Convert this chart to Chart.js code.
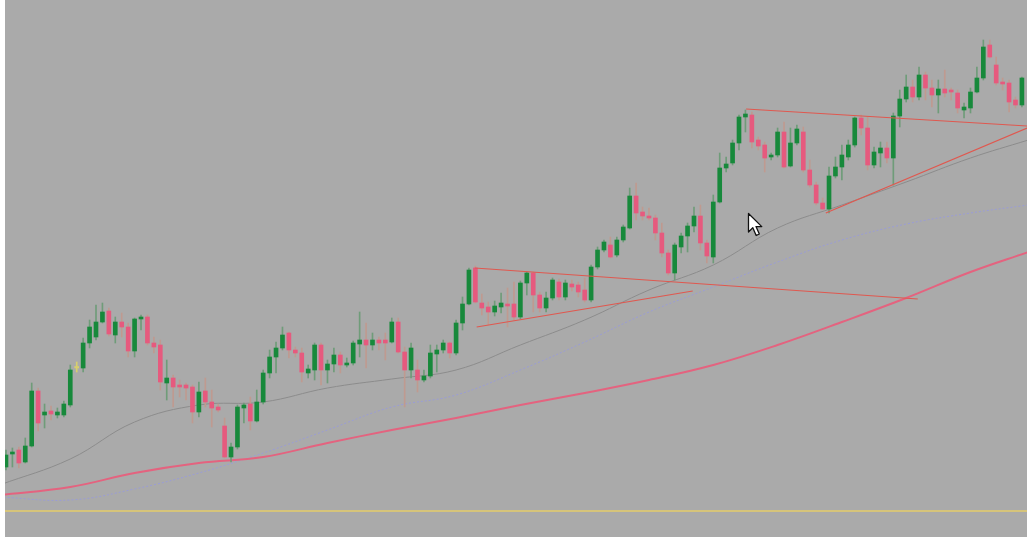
<!DOCTYPE html>
<html>
<head>
<meta charset="utf-8">
<script src="https://cdn.jsdelivr.net/npm/chart.js@4.4.0/dist/chart.umd.min.js"></script>
<style>
  html, body { margin: 0; padding: 0; background: #fff; }
  #wrap { position: relative; width: 1027px; height: 537px; background: #aaaaaa; overflow: hidden; }
  #edge { position: absolute; left: 0; top: 0; width: 5px; height: 537px; background: #fff; }
  #cursor { position: absolute; left: 747px; top: 212px; }
</style>
</head>
<body>
<div id="wrap">
  <canvas id="chart" width="1027" height="537"></canvas>
  <div id="edge"></div>
  <svg id="cursor" width="18" height="27" viewBox="0 0 18 27">
    <path d="M1.5 1.5 L1.5 20 L5.8 15.8 L9.2 23.5 L12.3 22 L9 14.6 L14.8 14.6 Z" fill="#fff" stroke="#111" stroke-width="1.3" stroke-linejoin="round"/>
  </svg>
</div>
<script>
// OHLC, one entry per candle (price units)
const opens = [70,83,87,75,91,146,122,126,122,122,132,169,169,194,200,215,226,202,215,210,
  186,218,220,194,192,154,159,152,152,150,125,146,135,130,111,80,90,129,133,116,
  135,164,180,189,204,187,184,164,167,192,167,173,182,172,174,193,197,192,197,197,
  195,215,185,167,167,157,161,183,187,194,184,214,233,269,234,230,225,230,233,233,
  220,254,264,242,229,239,255,240,253,252,247,237,270,287,292,282,297,309,341,325,
  321,319,304,284,264,290,301,311,321,294,280,335,369,374,394,420,422,397,392,380,
  382,405,371,394,405,367,352,334,328,361,370,380,392,419,409,372,384,389,379,421,
  438,450,440,462,449,442,448,447,444,427,429,445,459,492,472,455,454,437,432];
const highs = [87,89,90,99,154,149,133,131,129,136,172,175,199,217,232,234,229,220,224,214,
  219,222,222,200,197,177,162,157,154,152,155,159,147,133,119,94,132,134,140,147,
  167,187,195,210,205,190,189,172,194,194,177,189,185,179,196,225,214,204,200,204,
  219,219,190,194,177,167,192,192,197,195,217,240,269,271,243,235,236,244,249,255,
  256,265,265,245,245,259,258,257,257,255,259,272,290,297,300,300,312,349,354,330,
  329,322,314,287,294,304,314,330,332,297,342,384,380,397,422,427,425,400,395,384,
  409,415,409,412,410,377,355,339,370,380,392,397,420,422,420,390,395,395,424,447,
  462,457,470,465,457,457,467,449,447,434,449,470,497,497,480,459,457,440,460];
const lows = [67,70,69,74,90,106,109,117,119,120,130,165,165,189,197,214,201,194,200,180,
  180,207,192,184,147,137,130,140,137,114,120,130,110,125,79,75,88,114,107,115,
  133,159,164,187,179,180,155,159,157,152,154,165,164,170,172,180,169,187,187,177,
  194,184,130,159,145,155,159,165,184,179,182,207,232,234,222,212,221,224,210,217,
  218,242,225,225,225,237,237,237,246,240,235,235,268,285,279,280,295,308,317,317,
  317,297,280,262,257,284,285,305,287,274,274,334,365,372,387,405,389,387,365,377,
  380,369,370,392,365,350,332,327,324,359,357,377,390,402,367,369,370,374,352,410,
  435,435,437,437,430,424,440,437,424,419,424,444,457,479,452,447,425,429,430];
const closes = [82,85,74,91,146,114,125,123,125,133,167,169,194,210,215,225,203,215,210,186,
  218,220,194,190,155,159,150,150,149,125,145,135,129,127,80,90,130,132,116,135,
  164,180,189,202,187,184,165,168,192,167,173,182,172,174,194,197,192,197,194,194,
  215,185,167,189,157,161,184,187,194,184,214,233,267,235,229,225,231,234,231,220,
  254,264,242,229,239,257,240,254,250,245,237,270,287,295,280,297,310,341,324,321,
  319,304,284,264,292,301,311,321,294,281,335,369,373,394,420,423,395,391,379,382,
  405,370,394,408,367,352,334,328,361,370,382,392,419,409,372,385,389,379,421,438,
  450,440,462,449,442,448,444,445,429,430,445,459,490,480,454,453,435,432,459];

// moving averages, sampled every 10 candles
const maIdx  = [-1, 10, 20, 30, 40, 50, 60, 70, 80, 90, 100, 110, 120, 130, 140, 150, 159];
const grayMa = [52, 78, 115, 132, 135, 149, 158, 167, 192, 217, 247, 272, 309, 332, 355, 379, 397];
const blueMa = [40, 37, 48, 64, 84, 107, 130, 142, 167, 195, 225, 250, 275, 297, 313, 324, 332];
const redMa  = [42, 50, 64, 74, 80, 94, 107, 119, 132, 144, 157, 172, 192, 215, 239, 265, 285];
const baseLevel = 26;

// hand-drawn trend lines: [candle index, price] pairs
const tri1Top    = [[72.9, 269], [141.8, 238]];
const tri1Bottom = [[73.2, 210], [106.8, 246]];
const tri2Top    = [[115.1, 428], [158.8, 411]];
const tri2Bottom = [[127.5, 324], [158.8, 409]];

const upColor = '#17893b';
const downColor = '#e65a7e';
const dojiColor = '#d8cf6c';

const idx = opens.map((_, i) => i);
function bodyColor(i) {
  if (closes[i] > opens[i]) return upColor;
  if (closes[i] < opens[i]) return downColor;
  return dojiColor;
}
function wickColor(i) {
  if (closes[i] > opens[i]) return '#6f9c79';
  if (closes[i] < opens[i]) return '#bf9a90';
  return dojiColor;
}

function lineSet(points, color, width, order, extra) {
  return Object.assign({
    type: 'line',
    data: points.map(p => ({ x: p[0], y: p[1] })),
    borderColor: color,
    borderWidth: width,
    pointRadius: 0,
    fill: false,
    tension: 0,
    order: order
  }, extra || {});
}

const ctx = document.getElementById('chart').getContext('2d');
new Chart(ctx, {
  type: 'bar',
  data: {
    datasets: [
      lineSet(maIdx.map((x, k) => [x, redMa[k]]), '#e4637f', 2, 6, { tension: 0.4 }),
      lineSet(maIdx.map((x, k) => [x, blueMa[k]]), '#9a9cd6', 1, 6, { tension: 0.4, borderDash: [2, 2] }),
      lineSet(maIdx.map((x, k) => [x, grayMa[k]]), '#8c8c8c', 1, 6, { tension: 0.4 }),
      lineSet([[-1, baseLevel], [160, baseLevel]], '#d6c47a', 2, 6),
      {
        type: 'bar',
        data: idx.map(i => ({ x: i, y: [lows[i], highs[i]] })),
        backgroundColor: idx.map(wickColor),
        barThickness: 1,
        grouped: false,
        order: 4
      },
      {
        type: 'bar',
        data: idx.map(i => ({ x: i, y: [opens[i], closes[i]] })),
        backgroundColor: idx.map(bodyColor),
        barThickness: 4,
        minBarLength: 1.5,
        grouped: false,
        order: 3
      },
      lineSet(tri1Top, '#e0584f', 1.2, 1),
      lineSet(tri1Bottom, '#e0584f', 1.2, 1),
      lineSet(tri2Top, '#e0584f', 1.2, 1),
      lineSet(tri2Bottom, '#e0584f', 1.2, 1)
    ]
  },
  options: {
    responsive: false,
    animation: false,
    layout: { padding: 0 },
    plugins: { legend: { display: false }, tooltip: { enabled: false } },
    scales: {
      x: { type: 'linear', min: -0.93, max: 158.79, display: false, offset: false },
      y: { type: 'linear', min: 0, max: 537, display: false }
    }
  }
});
</script>
</body>
</html>
